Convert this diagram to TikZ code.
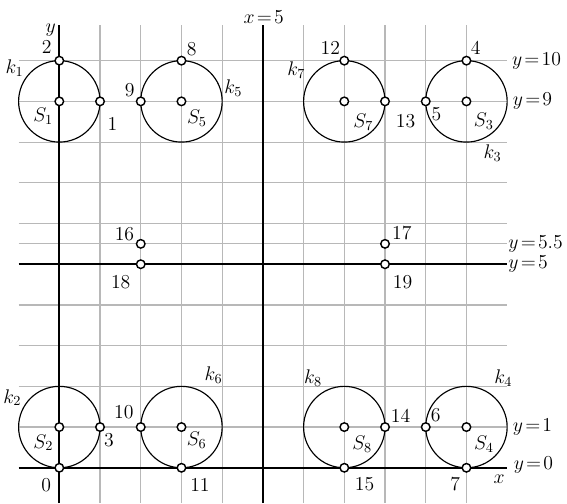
\documentclass[tikz,border=0pt]{standalone}
\usepackage{fix-cm}
\usepackage{tikz}
\usetikzlibrary{positioning}

\newcommand{\lineq}[2]{$#1\mkern2mu{=}\mkern2mu#2$}

\begin{document}
\begin{tikzpicture}[
  font=\fontsize{13.8}{16}\selectfont,
  grid/.style={draw=black!28, line width=0.8pt},
  axis/.style={draw=black, line width=1.4pt},
  ring/.style={draw, circle, line width=0.8pt, minimum size=2cm, inner sep=0pt},
  pt/.style={draw, circle, fill=white, line width=1pt, minimum size=2.1mm, inner sep=0pt},
  every label/.style={inner sep=1pt},
  eqn/.style={anchor=west, inner sep=1pt}
]
\useasboundingbox (-1.457,-0.87) rectangle (12.47,11.49);
% grid
\draw[grid] (1,-0.87) -- (1,10.88) (2,-0.87) -- (2,10.88) (3,-0.87) -- (3,10.88)
  (4,-0.87) -- (4,10.88) (6,-0.87) -- (6,10.88) (7,-0.87) -- (7,10.88)
  (8,-0.87) -- (8,10.88) (9,-0.87) -- (9,10.88) (10,-0.87) -- (10,10.88);
\draw[grid] (-1,1) -- (11,1) (-1,2) -- (11,2) (-1,3) -- (11,3) (-1,4) -- (11,4)
  (-1,5.5) -- (11,5.5) (-1,6) -- (11,6) (-1,7) -- (11,7) (-1,8) -- (11,8)
  (-1,9) -- (11,9) (-1,10) -- (11,10);
% axes and the lines x=5, y=5
\draw[axis] (0,-0.87) -- (0,10.88);
\draw[axis] (5,-0.87) -- (5,10.88);
\draw[axis] (-1,0) -- (11,0);
\draw[axis] (-1,5) -- (11,5);
\node (ly) at (-0.21,10.74) {$y$};
\node (lx) at (10.8,-0.28) {$x$};
\node (lx5) at (5.02,11.07) {\lineq{x}{5}};
\node[eqn] (ly10) at (11.08,10) {\lineq{y}{10}};
\node[eqn] (ly9) at (11.1,9) {\lineq{y}{9}};
\node[eqn] (ly55) at (10.99,5.5) {\lineq{y}{5.5}};
\node[eqn] (ly5) at (10.99,5) {\lineq{y}{5}};
\node[eqn] (ly1) at (11.1,1) {\lineq{y}{1}};
\node[eqn] (ly0) at (11.12,0.07) {\lineq{y}{0}};
% circles
\node[ring, label={146:$k_1$}] (k1) at (0,9) {};
\node[ring, label={4:$k_5$}] (k5) at (3,9) {};
\node[ring, label={[label distance=1pt]151:$k_7$}] (k7) at (7,9) {};
\node[ring, label={[label distance=2.5pt]290:$k_3$}] (k3) at (10,9) {};
\node[ring, label={152:$k_2$}] (k2) at (0,1) {};
\node[ring, label={[label distance=4pt]63:$k_6$}] (k6) at (3,1) {};
\node[ring, label={[label distance=1.8pt]118:$k_8$}] (k8) at (7,1) {};
\node[ring, label={[label distance=3.8pt]56:$k_4$}] (k4) at (10,1) {};
% centres
\node[pt, label={[label distance=1.2pt]227:$S_1$}] (s1) at (0,9) {};
\node[pt, label={[label distance=1.8pt]301:$S_5$}] (s5) at (3,9) {};
\node[pt, label={[label distance=5.8pt]304:$S_7$}] (s7) at (7,9) {};
\node[pt, label={[label distance=4.3pt]301:$S_3$}] (s3) at (10,9) {};
\node[pt, label={[label distance=1.6pt]232:$S_2$}] (s2) at (0,1) {};
\node[pt, label={316:$S_6$}] (s6) at (3,1) {};
\node[pt, label={[label distance=3.2pt]311:$S_8$}] (s8) at (7,1) {};
\node[pt, label={[label distance=3pt]309:$S_4$}] (s4) at (10,1) {};
% numbered points
\node[pt, label={[label distance=4.4pt]234:0}] (p0) at (0,0) {};
\node[pt, label={[label distance=7pt]293:1}] (p1) at (1,9) {};
\node[pt, label={[label distance=2pt]140:2}] (p2) at (0,10) {};
\node[pt, label={297:3}] (p3) at (1,1) {};
\node[pt, label={57:4}] (p4) at (10,10) {};
\node[pt, label={[label distance=0.5pt]316:5}] (p5) at (9,9) {};
\node[pt, label={46:6}] (p6) at (9,1) {};
\node[pt, label={[label distance=3pt]240:7}] (p7) at (10,0) {};
\node[pt, label={41:8}] (p8) at (3,10) {};
\node[pt, label={151:9}] (p9) at (2,9) {};
\node[pt, label={[label distance=2.4pt]131:10}] (p10) at (2,1) {};
\node[pt, label={[label distance=4.6pt]308:11}] (p11) at (3,0) {};
\node[pt, label={120:12}] (p12) at (7,10) {};
\node[pt, label={[label distance=6.4pt]310:13}] (p13) at (8,9) {};
\node[pt, label={32:14}] (p14) at (8,1) {};
\node[pt, label={[label distance=4.7pt]319:15}] (p15) at (7,0) {};
\node[pt, label={167:16}] (p16) at (2,5.5) {};
\node[pt, label={[label distance=0.5pt]19:17}] (p17) at (8,5.5) {};
\node[pt, label={[label distance=5.7pt]229:18}] (p18) at (2,5) {};
\node[pt, label={[label distance=4.6pt]302:19}] (p19) at (8,5) {};
\end{tikzpicture}
\end{document}
